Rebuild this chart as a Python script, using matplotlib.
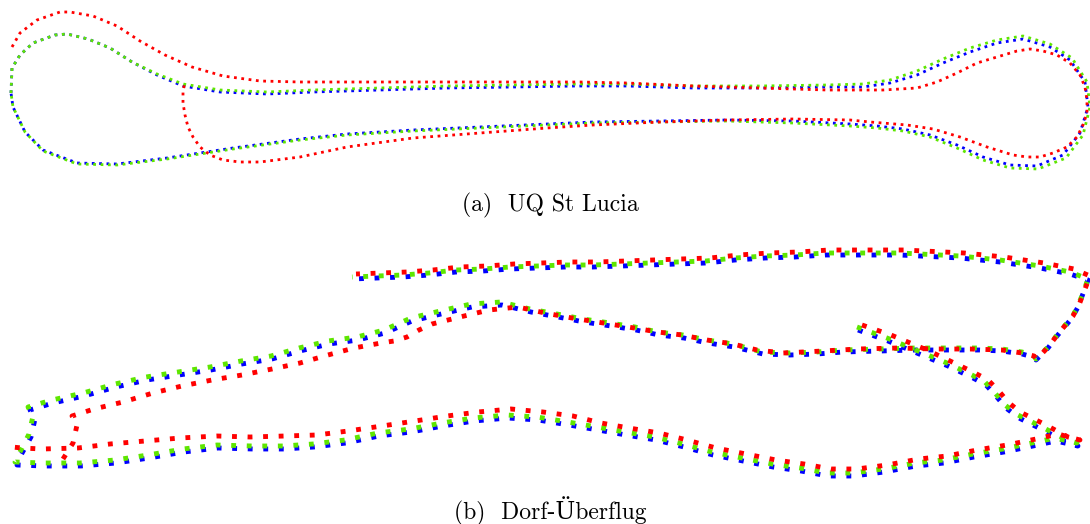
#!/usr/bin/env python
'''
Two flight trajectories (red, blue, green estimates) drawn without axes,
with LaTeX-style subcaptions underneath.
'''
import numpy as np
import matplotlib
matplotlib.use('Agg')
import matplotlib.pyplot as plt

# --- data (image coordinates) ---

captions = ['(a)  UQ St Lucia', '(b)  Dorf-\u00dcberflug']

# (a) UQ St Lucia
lucia_red = [(12,47),(20,33),(37,20),(60,12),(70,12),(93,16),(117,26),(140,41),(165,55),(192,67),
             (223,76),(260,81),(300,82),(400,82),(500,82),(580,82),(627,83),(693,86),(760,88),(827,90),
             (883,90),(917,88),(937,82),(957,73),(977,63),(997,57),(1017,51),(1030,49),(1043,51),(1057,55),
             (1070,63),(1080,75),(1085,87),(1087,100),(1087,113),(1083,125),(1077,137),(1067,147),(1053,153),
             (1040,157),(1027,157),(1013,155),(987,147),(960,137),(933,129),(907,125),(870,122),(850,120),
             (793,119),(727,120),(660,122),(593,125),(547,128),(480,133),(413,138),(347,147),(300,157),
             (260,162),(240,162),(223,160),(210,155),(200,147),(193,137),(188,127),(185,115),(183,103),
             (183,92),(185,81)]
lucia_blue = [(11,93),(12,68),(20,55),(33,43),(55,35),(67,34),(88,39),(110,48),(132,62),(157,75),
              (183,86),(220,92),(267,94),(313,92),(380,90),(447,88),(513,87),(577,86),(627,86),(693,88),
              (760,88),(827,87),(863,87),(890,83),(917,75),(943,63),(970,52),(997,43),(1023,39),(1050,47),
              (1070,60),(1085,82),(1088,107),(1080,133),(1063,155),(1037,166),(1010,165),(983,157),(957,145),
              (930,135),(903,129),(877,126),(850,124),(793,121),(727,120),(660,121),(593,122),(547,124),
              (480,127),(413,130),(347,134),(300,139),(233,148),(167,158),(117,164),(77,163),(43,150),
              (25,132),(13,107),(11,93)]
lucia_green = [(11,93),(12,68),(20,55),(33,43),(55,35),(67,34),(88,39),(110,48),(132,62),(157,74),
               (183,84),(220,90),(267,92),(313,90),(380,88),(447,86),(513,85),(577,84),(627,84),(693,86),
               (760,86),(827,85),(863,84),(890,80),(917,71),(943,59),(970,48),(997,40),(1023,36),(1050,44),
               (1072,58),(1087,82),(1090,107),(1083,135),(1066,158),(1038,169),(1010,168),(983,160),(957,148),
               (930,137),(903,131),(877,128),(850,126),(793,123),(727,121),(660,122),(593,123),(547,125),
               (480,128),(413,131),(347,135),(300,140),(233,149),(167,159),(117,165),(77,164),(43,151),
               (25,132),(13,107),(11,93)]

# (b) Dorf-Ueberflug
dorf_red = [(862,325),(891,335),(927,350),(948,360),(973,372),(988,380),(998,390),(1008,402),(1020,412),
            (1044,424),(1068,437),(1080,440),
            (1058,434),(1036,439),(1007,445),(977,450),(947,456),(919,459),(887,465),(857,469),(831,469),
            (804,464),(776,460),(746,454),(716,448),(687,440),(659,433),(629,428),(601,423),(573,416),
            (543,412),(511,409),(478,412),(447,416),(415,421),(382,426),(348,431),(317,435),(285,436),
            (250,437),(217,436),(180,438),(145,441),(110,444),(78,448),(42,449),(22,448),(12,447),
            (None,None),
            (63,459),(73,443),(77,425),(72,416),
            (94,409),(123,402),(153,393),(182,386),(212,380),(242,375),(272,369),(300,363),(328,355),
            (354,348),(381,343),(394,341),(407,337),(419,330),(432,324),(460,317),(489,310),(518,307),
            (545,313),(572,318),(597,322),(622,326),(658,332),(682,335),(707,340),(733,344),(757,350),
            (783,353),(823,351),(858,349),(898,348),(935,349),(970,349),(1002,350),(1022,353),(1034,356),
            (1037,359),
            (1049,346),(1058,334),(1073,316),(1079,305),(1085,289),(1090,276),
            (1074,269),(1044,263),(1004,257),(964,253),(904,250),(859,250),(829,250),(799,252),(769,253),
            (739,255),(710,258),(681,259),(653,260),(626,261),(597,262),(569,262),(541,263),(514,264),
            (487,266),(460,267),(433,270),(407,272),(381,273),(356,274)]
dorf_blue = [(858,330),(888,341),(924,356),(948,366),(973,378),(986,385),(996,396),(1006,408),(1019,418),
             (1043,430),(1068,443),(1078,446),
             (1056,441),(1033,446),(1004,452),(974,457),(944,463),(916,466),(884,472),(854,476),(828,476),
             (801,471),(773,467),(743,461),(713,455),(684,447),(656,440),(626,435),(598,430),(569,425),
             (538,420),(508,418),(474,421),(443,426),(411,432),(379,436),(346,443),(314,447),(284,449),
             (253,449),(218,448),(184,452),(149,458),(116,463),(81,466),(44,466),(17,465),
             (21,455),(31,437),(35,419),(30,410),
             (53,403),(84,396),(116,387),(147,380),(179,375),(211,370),(242,364),(272,359),(300,351),
             (329,344),(358,340),(385,333),(412,321),(441,314),(472,307),(502,305),(531,312),(558,317),
             (584,322),(611,326),(636,330),(659,335),(684,338),(708,343),(734,347),(763,354),(790,355),
             (817,354),(843,352),(880,351),(915,350),(948,350),(980,350),(1002,351),(1022,354),(1033,357),
             (1036,360),
             (1048,348),(1057,336),(1072,318),(1078,307),(1084,291),(1088,280),
             (1070,274),(1040,268),(1000,262),(960,258),(900,255),(855,255),(825,255),(795,257),(765,258),
             (735,260),(706,263),(677,264),(649,265),(622,266),(593,267),(565,267),(537,268),(510,269),
             (483,271),(456,272),(429,275),(403,277),(377,278),(352,279)]
dorf_green = [(857,327),(887,338),(923,353),(947,363),(972,375),(985,382),(995,393),(1005,405),(1018,415),
              (1042,427),(1067,440),(1077,443),
              (1055,438),(1032,443),(1003,449),(973,454),(943,460),(915,463),(883,469),(853,473),(827,473),
              (800,468),(772,464),(742,458),(712,452),(683,444),(655,437),(625,432),(597,427),(568,422),
              (537,417),(507,415),(473,418),(442,423),(410,429),(378,433),(345,440),(313,444),(283,446),
              (252,446),(217,445),(183,449),(148,455),(115,460),(80,463),(43,463),(15,462),
              (20,452),(29,434),(33,416),(28,407),
              (52,400),(83,393),(115,384),(146,377),(178,372),(210,367),(241,361),(271,356),(299,348),
              (328,341),(357,337),(384,330),(411,318),(440,311),(471,304),(501,302),(530,309),(557,314),
              (583,319),(610,323),(635,327),(658,332),(683,335),(707,340),(733,344),(762,352),(790,353),
              (817,352),(843,350),(880,349),(915,348),(948,348),(980,348),(1002,349),(1022,352),(1033,355),
              (1036,359),
              (1048,347),(1057,335),(1072,317),(1078,306),(1084,290),(1088,279),
              (1070,272),(1040,266),(1000,260),(960,256),(900,253),(855,253),(825,253),(795,255),(765,256),
              (735,258),(706,261),(677,262),(649,263),(622,264),(593,265),(565,265),(537,266),(510,267),
              (483,269),(456,270),(429,273),(403,275),(377,276),(352,277)]

RED, BLUE, GREEN = '#ff0000', '#0000ff', '#5ee600'


def to_xy(points):
    arr = np.array([(np.nan, np.nan) if p[0] is None else p for p in points], dtype=float)
    return arr[:, 0], arr[:, 1]


fig = plt.figure(figsize=(10.9, 5.24), dpi=100)
ax = fig.add_axes([0, 0, 1, 1])
ax.set_xlim(0, 1090)
ax.set_ylim(524, 0)
ax.axis('off')

# (a) thin dotted tracks
for pts, col in [(lucia_blue, BLUE), (lucia_green, GREEN), (lucia_red, RED)]:
    x, y = to_xy(pts)
    ax.plot(x, y, color=col, lw=2.0, dashes=(1.0, 1.65), dash_capstyle='butt',
            clip_on=False)

# (b) thick dashed tracks
for pts, col in [(dorf_blue, BLUE), (dorf_green, GREEN), (dorf_red, RED)]:
    x, y = to_xy(pts)
    ax.plot(x, y, color=col, lw=3.5, dashes=(1.0, 2.2), dash_capstyle='butt',
            clip_on=False)

cap_font = dict(family=['cmr10', 'DejaVu Serif'], size=17, ha='center', va='center')
ax.text(550, 205, captions[0], **cap_font)
ax.text(550, 511, captions[1], **cap_font)

fig.savefig('out.png', dpi=100)
